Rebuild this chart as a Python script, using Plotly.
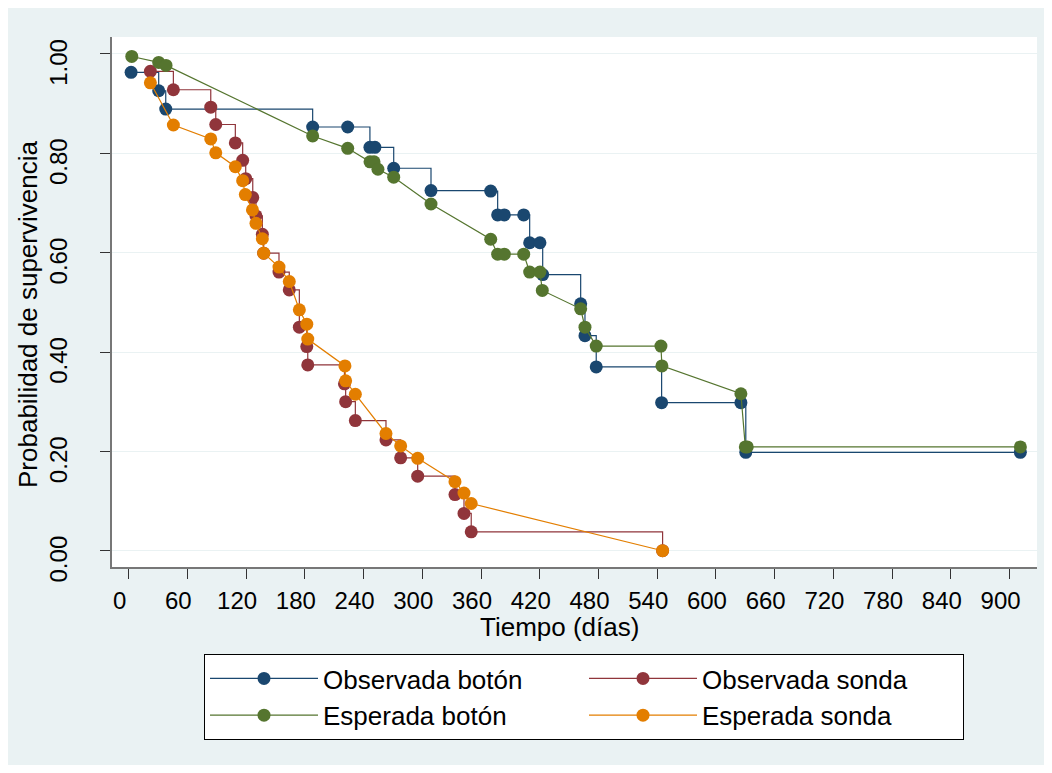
import plotly.graph_objects as go

# ---- data ----
obs_boton_t = [2.5, 30.7, 37.9, 188, 223.8, 246.5, 251.6, 270.8, 308.9, 369.9, 377, 383.8, 403.6,
               409.7, 420.2, 423, 461.8, 466.2, 477.7, 544.5, 625.5, 630.5, 911]
obs_boton_s = [0.963, 0.926, 0.889, 0.853, 0.853, 0.812, 0.812, 0.770, 0.725, 0.724, 0.676, 0.676, 0.676,
               0.620, 0.620, 0.556, 0.497, 0.433, 0.370, 0.298, 0.298, 0.198, 0.198]

esp_boton_t = [3.2, 30.7, 38.2, 188, 223.8, 246.6, 250.7, 254.7, 270.8, 308.9, 369.9, 377, 383.8, 403.6,
               409.7, 420.2, 422.6, 461.8, 466.2, 477.7, 543.8, 544.8, 625.5, 630, 632, 911]
esp_boton_s = [0.995, 0.983, 0.977, 0.835, 0.810, 0.783, 0.783, 0.768, 0.752, 0.698, 0.627, 0.597, 0.597, 0.597,
               0.561, 0.561, 0.524, 0.487, 0.450, 0.412, 0.412, 0.372, 0.316, 0.209, 0.209, 0.209]

obs_sonda_t = [22.2, 45.7, 83.9, 89, 109, 116.5, 119.6, 126.8, 130.1, 136.6, 138, 153.6, 164.1, 174.4,
               182, 183, 220.5, 221.7, 231.6, 262.9, 277.9, 295.3, 333.4, 342.6, 350, 545.5]
obs_sonda_s = [0.965, 0.928, 0.893, 0.858, 0.821, 0.786, 0.749, 0.711, 0.674, 0.637, 0.599, 0.561, 0.525, 0.450,
               0.411, 0.374, 0.336, 0.300, 0.262, 0.223, 0.187, 0.150, 0.113, 0.075, 0.038, 0.0]

esp_sonda_t = [22.2, 45.7, 83.9, 89, 109, 116.5, 119.2, 126.5, 130.1, 136.6, 138, 153.6, 164.1, 174.4,
               182, 183, 221, 221.7, 231.6, 262.9, 277.9, 295.3, 333.4, 342.6, 350, 545.5]
esp_sonda_s = [0.942, 0.857, 0.829, 0.801, 0.773, 0.745, 0.717, 0.686, 0.659, 0.628, 0.599, 0.571, 0.542, 0.485,
               0.456, 0.426, 0.372, 0.342, 0.315, 0.236, 0.211, 0.186, 0.139, 0.116, 0.095, 0.0]

x_ticks = list(range(0, 901, 60))
y_ticks = [0.0, 0.2, 0.4, 0.6, 0.8, 1.0]

names = ["Observada botón", "Observada sonda", "Esperada botón", "Esperada sonda"]
colors = ["#1a476f", "#90353b", "#55752f", "#e37e00"]
x_title = "Tiempo (días)"
y_title = "Probabilidad de supervivencia"

FONT = "Arial, Liberation Sans, Helvetica, sans-serif"
BG = "#eaf2f3"

fig = go.Figure()
series = [
    (obs_boton_t, obs_boton_s, "hv"),
    (obs_sonda_t, obs_sonda_s, "hv"),
    (esp_boton_t, esp_boton_s, "linear"),
    (esp_sonda_t, esp_sonda_s, "linear"),
]
for (t, s, shape), name, col in zip(series, names, colors):
    fig.add_trace(go.Scatter(
        x=t, y=s, name=name, mode="lines+markers",
        line=dict(color=col, width=1.2, shape=shape),
        marker=dict(color=col, size=13, symbol="circle"),
    ))

# page has an 8px body margin; figure spans page (8,8)-(1044,765)
PW, PH = 925, 530  # plot area size in px
fig.update_layout(
    width=1036, height=757,
    margin=dict(l=104, r=7, t=29, b=198, autoexpand=False),
    paper_bgcolor=BG,
    plot_bgcolor="white",
    font=dict(family=FONT, color="black", size=24),
    showlegend=True,
    legend=dict(
        orientation="h",
        x=(204 - 112) / PW, xanchor="left",
        y=-(654 - 567) / PH, yanchor="top",
        bgcolor="white", bordercolor="black", borderwidth=1,
        font=dict(family=FONT, size=26, color="black"),
        entrywidth=256, entrywidthmode="pixels",
        itemwidth=108,
        tracegroupgap=0,
    ),
    annotations=[
        dict(text=x_title, xref="paper", yref="paper",
             x=(559.5 - 112) / PW, y=-(627 - 567) / PH,
             xanchor="center", yanchor="middle", showarrow=False,
             font=dict(family=FONT, size=26, color="black")),
        dict(text=y_title, xref="paper", yref="paper",
             x=(28 - 112) / PW, y=(567 - 315) / PH, textangle=-90,
             xanchor="center", yanchor="middle", showarrow=False,
             font=dict(family=FONT, size=26, color="black")),
    ],
)

fig.update_xaxes(
    range=[-17, 928], automargin=False,
    tickmode="array", tickvals=x_ticks, ticktext=[str(v) for v in x_ticks],
    ticks="outside", ticklen=10, tickcolor="#333", tickwidth=1.3,
    showline=True, linecolor="#777", linewidth=1.6,
    showgrid=False, zeroline=False,
    tickfont=dict(family=FONT, size=24, color="black"),
    ticklabelstandoff=1, ticklabelshift=-9,
)
fig.update_yaxes(
    range=[-0.0328, 1.0342], automargin=False,
    tickmode="array", tickvals=y_ticks, ticktext=[f"{v:.2f}" for v in y_ticks],
    tickangle=-90,
    ticks="outside", ticklen=10, tickcolor="#333", tickwidth=1.3,
    showline=True, linecolor="#777", linewidth=1.6,
    showgrid=True, gridcolor=BG, gridwidth=1.2,
    zeroline=False,
    tickfont=dict(family=FONT, size=24, color="black"),
    ticklabelstandoff=24, ticklabelshift=12,
)

fig.write_html("out.html")
